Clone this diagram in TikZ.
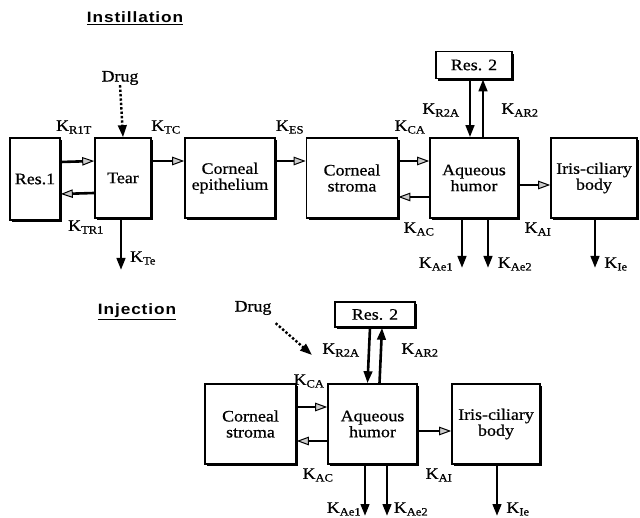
\documentclass[tikz,border=0pt]{standalone}
\usepackage{fontspec}
\setmainfont[FakeStretch=1.12,FakeBold=0.6]{Liberation Serif}
\newfontfamily\headfont[FakeStretch=1.15,LetterSpace=6]{Liberation Sans}
\usetikzlibrary{arrows.meta,shadows}
\newcommand\KK[1]{K\textsubscript{#1}}
\tikzset{
  box/.style={draw, line width=1.6pt, fill=white, align=center, inner sep=1pt,
    font=\fontsize{16}{16}\selectfont,
    drop shadow={shadow xshift=2.4pt, shadow yshift=-2.4pt, fill=black, opacity=1}},
  harr/.style={line width=2.6pt, -{Triangle[length=12pt,width=8.5pt,fill=gray!40,line width=1pt]}},
  varr/.style={line width=2.6pt, -{Triangle[length=12pt,width=8.5pt]}},
  dotarr/.style={line width=2.4pt, dotted, -{Triangle[length=12pt,width=8.5pt]}},
  lab/.style={font=\fontsize{16}{17}\selectfont, inner sep=0pt},
  head/.style={font=\headfont\bfseries\fontsize{15}{16}\selectfont, inner sep=0pt},
}
\begin{document}
\begin{tikzpicture}[x=1pt,y=-1pt]
\useasboundingbox (0,0) rectangle (640,518);
% ---------- Instillation ----------
\node[head] (h1) at (135,18) {\underline{Instillation}};
\node[box, minimum width=50pt, minimum height=82pt] (res1) at (35,179) {Res.1};
\node[box, minimum width=56pt, minimum height=80pt] (tear) at (123,178) {Tear};
\node[box, minimum width=90pt, minimum height=80pt] (ce) at (230,178) {Corneal\\epithelium};
\node[box, minimum width=91pt, minimum height=80pt] (cs) at (352,178) {Corneal\\stroma};
\node[box, minimum width=88pt, minimum height=80pt] (ah) at (474,178) {Aqueous\\humor};
\node[box, minimum width=86pt, minimum height=80pt] (ib) at (594,178) {Iris-ciliary\\body};
\node[box, minimum width=76pt, minimum height=27pt] (res2) at (474,65) {Res. 2};
\node[lab] (drug1) at (120,78) {Drug};
\coordinate (te) at (121,270);
\coordinate (ae1) at (462,268);
\coordinate (ae2) at (488,268);
\coordinate (ie) at (595,268);

\draw[dotarr] (drug1.south) -- (tear.north);
\draw[harr] ([yshift=17pt]res1.east) -- ([yshift=17pt]tear.west);
\draw[harr] ([yshift=-15pt]tear.west) -- ([yshift=-15pt]res1.east);
\draw[harr] ([yshift=17pt]tear.east) -- ([yshift=17pt]ce.west);
\draw[harr] ([yshift=17pt]ce.east) -- ([yshift=17pt]cs.west);
\draw[harr] ([yshift=17pt]cs.east) -- ([yshift=17pt]ah.west);
\draw[harr] ([yshift=-19pt]ah.west) -- ([yshift=-19pt]cs.east);
\draw[harr] ([yshift=-7pt]ah.east) -- ([yshift=-7pt]ib.west);
\draw[varr] ([xshift=-4pt]res2.south) -- ([xshift=-4pt]ah.north);
\draw[varr] ([xshift=9pt]ah.north) -- ([xshift=9pt]res2.south);
\draw[varr] (tear.south -| te) -- (te);
\draw[varr] (ah.south -| ae1) -- (ae1);
\draw[varr] (ah.south -| ae2) -- (ae2);
\draw[varr] (ib.south -| ie) -- (ie);

\node[lab] (k1) at (74,127) {\KK{R1T}};
\node[lab] (k2) at (166,127) {\KK{TC}};
\node[lab] (k3) at (290,127) {\KK{ES}};
\node[lab] (k4) at (86,227) {\KK{TR1}};
\node[lab] (k5) at (143,258) {\KK{Te}};
\node[lab] (k6) at (410,127) {\KK{CA}};
\node[lab] (k7) at (419,229) {\KK{AC}};
\node[lab] (k8) at (441,110) {\KK{R2A}};
\node[lab] (k9) at (520,110) {\KK{AR2}};
\node[lab] (k10) at (538,229) {\KK{AI}};
\node[lab] (k11) at (436,264) {\KK{Ae1}};
\node[lab] (k12) at (515,264) {\KK{Ae2}};
\node[lab] (k13) at (616,264) {\KK{Ie}};

% ---------- Injection ----------
\node[head] (h2) at (137,312) {\underline{Injection}};
\node[box, minimum width=91pt, minimum height=80pt] (cs2) at (250.5,424) {Corneal\\stroma};
\node[box, minimum width=89pt, minimum height=80pt] (ah2) at (372.5,424) {Aqueous\\humor};
\node[box, minimum width=88pt, minimum height=80pt] (ib2) at (496,424) {Iris-ciliary\\body};
\node[box, minimum width=80pt, minimum height=25pt] (res2b) at (375,314.5) {Res. 2};
\node[lab] (drug2) at (253,308) {Drug};
\coordinate (dend) at (312,355);
\coordinate (be1) at (365,516);
\coordinate (be2) at (387,516);
\coordinate (bie) at (497,516);

\draw[dotarr] ([xshift=4pt,yshift=-8pt]drug2.south east) -- (dend);
\draw[harr] ([yshift=17pt]cs2.east) -- ([yshift=17pt]ah2.west);
\draw[harr] ([yshift=-17pt]ah2.west) -- ([yshift=-17pt]cs2.east);
\draw[harr] ([yshift=-7pt]ah2.east) -- ([yshift=-7pt]ib2.west);
\draw[varr] ([xshift=-5pt]res2b.south) -- ([xshift=-5pt]ah2.north);
\draw[varr] ([xshift=7pt]ah2.north) -- ([xshift=7pt]res2b.south);
\draw[varr] (ah2.south -| be1) -- (be1);
\draw[varr] (ah2.south -| be2) -- (be2);
\draw[varr] (ib2.south -| bie) -- (bie);

\node[lab] (m1) at (341,350) {\KK{R2A}};
\node[lab] (m2) at (420,350) {\KK{AR2}};
\node[lab] (m3) at (309,381) {\KK{CA}};
\node[lab] (m4) at (318,475) {\KK{AC}};
\node[lab] (m5) at (439,475) {\KK{AI}};
\node[lab] (m6) at (344,509) {\KK{Ae1}};
\node[lab] (m7) at (411,509) {\KK{Ae2}};
\node[lab] (m8) at (518,509) {\KK{Ie}};
\end{tikzpicture}
\end{document}
